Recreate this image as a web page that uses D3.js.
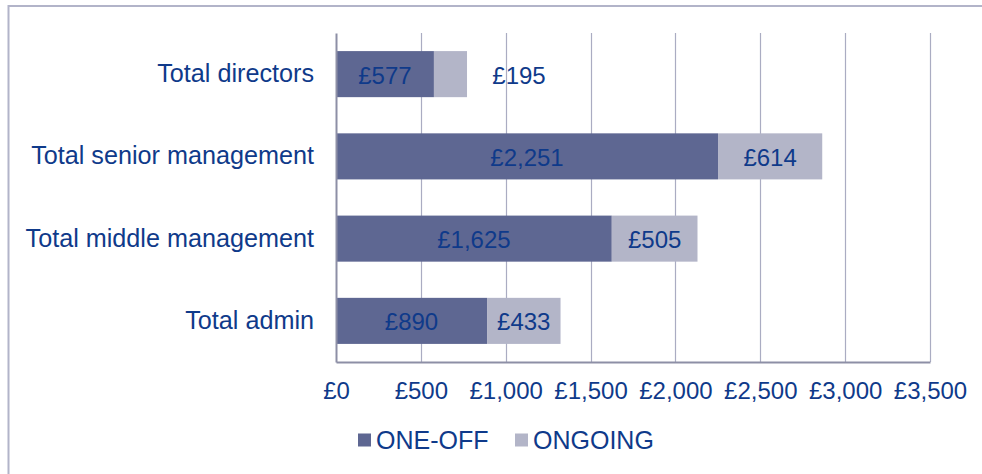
<!DOCTYPE html>
<html>
<head>
<meta charset="utf-8">
<script src="https://cdn.jsdelivr.net/npm/d3@7"></script>
<style>
  html, body { margin: 0; padding: 0; background: #fff; }
  svg { display: block; font-family: "Liberation Sans", Arial, sans-serif; }
</style>
</head>
<body>
<svg id="chart" width="982" height="474"></svg>
<script>
// Cost per employee group, split into one-off and ongoing costs (£)
const categories = ["Total directors", "Total senior management", "Total middle management", "Total admin"];
const oneOff = [577, 2251, 1625, 890];
const ongoing = [195, 614, 505, 433];
const xTicks = [0, 500, 1000, 1500, 2000, 2500, 3000, 3500];
const seriesNames = ["ONE-OFF", "ONGOING"];

const colors = { oneOff: "#5e6792", ongoing: "#b3b5c8", text: "#0f3a8a", grid: "#aaacc2", axis: "#8d8fa6", frame: "#b2b4c9" };

const svg = d3.select("#chart");
const plot = { left: 336, right: 930, top: 33, bottom: 362 };

const x = d3.scaleLinear().domain([0, 3500]).range([plot.left, plot.right]);
const y = d3.scaleBand().domain(categories).range([plot.top, plot.bottom]).paddingInner(0.44).paddingOuter(0.22);

const money = v => "£" + d3.format(",")(v);

// outer frame (top and left edges)
svg.append("line").attr("x1", 8.5).attr("x2", 982).attr("y1", 6).attr("y2", 6)
  .attr("stroke", colors.frame).attr("stroke-width", 2);
svg.append("line").attr("x1", 8.5).attr("x2", 8.5).attr("y1", 5).attr("y2", 474)
  .attr("stroke", colors.frame).attr("stroke-width", 2);

// vertical gridlines
svg.append("g").selectAll("line").data(xTicks.slice(1)).join("line")
  .attr("x1", d => Math.round(x(d)) + 0.5).attr("x2", d => Math.round(x(d)) + 0.5)
  .attr("y1", plot.top).attr("y2", plot.bottom)
  .attr("stroke", colors.grid).attr("stroke-width", 1.2);

// stacked bars
const rows = categories.map((c, i) => ({ cat: c, a: oneOff[i], b: ongoing[i] }));
const bars = svg.append("g");
bars.selectAll("rect.one").data(rows).join("rect")
  .attr("x", x(0)).attr("y", d => y(d.cat))
  .attr("width", d => x(d.a) - x(0)).attr("height", y.bandwidth())
  .attr("fill", colors.oneOff);
bars.selectAll("rect.two").data(rows).join("rect")
  .attr("x", d => x(d.a)).attr("y", d => y(d.cat))
  .attr("width", d => x(d.a + d.b) - x(d.a)).attr("height", y.bandwidth())
  .attr("fill", colors.ongoing);

// value labels
const labels = svg.append("g").attr("font-size", 24).attr("fill", colors.text)
  .attr("text-anchor", "middle").attr("dominant-baseline", "central");
labels.selectAll("text.one").data(rows).join("text")
  .attr("x", d => (x(0) + x(d.a)) / 2).attr("y", d => y(d.cat) + y.bandwidth() / 2 + 1)
  .text(d => money(d.a));
labels.selectAll("text.two").data(rows).join("text")
  .attr("x", (d, i) => i === 0 ? x(d.a + d.b) + 52 : (x(d.a) + x(d.a + d.b)) / 2)
  .attr("y", d => y(d.cat) + y.bandwidth() / 2 + 1)
  .text(d => money(d.b));

// axes
const xAxis = svg.append("g").attr("transform", `translate(0,${plot.bottom})`)
  .call(d3.axisBottom(x).tickValues(xTicks).tickSize(0).tickPadding(20).tickFormat(money));
xAxis.select(".domain").attr("stroke", colors.axis).attr("stroke-width", 2);
xAxis.selectAll("text").attr("font-size", 24).attr("fill", colors.text).attr("font-family", "Liberation Sans, Arial, sans-serif");

const yAxis = svg.append("g").attr("transform", `translate(${plot.left},0)`)
  .call(d3.axisLeft(y).tickSize(0).tickPadding(22));
yAxis.select(".domain").attr("stroke", colors.axis).attr("stroke-width", 2);
yAxis.selectAll("text").attr("font-size", 25.2).attr("fill", colors.text).attr("font-family", "Liberation Sans, Arial, sans-serif");

// legend
const legend = svg.append("g").attr("transform", "translate(358,440)");
const legendItems = [
  { name: seriesNames[0], color: colors.oneOff, x: 0 },
  { name: seriesNames[1], color: colors.ongoing, x: 157 }
];
const li = legend.selectAll("g").data(legendItems).join("g").attr("transform", d => `translate(${d.x},0)`);
li.append("rect").attr("x", 0).attr("y", -6.5).attr("width", 13).attr("height", 13).attr("fill", d => d.color);
li.append("text").attr("x", 18).attr("y", 0).attr("dominant-baseline", "central")
  .attr("font-size", 25).attr("fill", colors.text).text(d => d.name);
</script>
</body>
</html>
